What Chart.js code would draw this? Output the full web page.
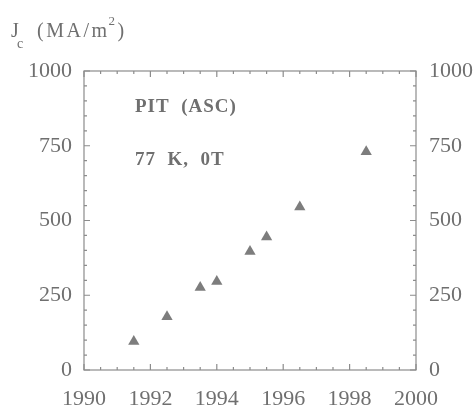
<!DOCTYPE html>
<html>
<head>
<meta charset="utf-8">
<script src="https://cdn.jsdelivr.net/npm/chart.js@4.4.1/dist/chart.umd.min.js"></script>
<style>
  html, body { margin: 0; padding: 0; background: #fff; }
  #wrap { position: relative; width: 476px; height: 411px; }
</style>
</head>
<body>
<div id="wrap"><canvas id="c" width="476" height="411"></canvas></div>
<script>
// ---- data ----
const years = [1991.5, 1992.5, 1993.5, 1994.0, 1995.0, 1995.5, 1996.5, 1998.5];
const jcValues = [95, 178, 276, 296, 396, 445, 545, 730];
const xTicks = [1990, 1992, 1994, 1996, 1998, 2000];
const yTicks = [0, 250, 500, 750, 1000];
const yAxisTitle = ['J', 'c', '(MA/m', '2', ')'];
const annotations = ['PIT  (ASC)', '77  K,  0T'];

const textColor = '#6f6f6f';
const axisColor = '#8c8c8c';
const markColor = '#7d7d7d';
const serif = "'Liberation Serif', 'Times New Roman', serif";

const framePlugin = {
  id: 'frame',
  afterDraw(chart) {
    const ctx = chart.ctx;
    const a = chart.chartArea;
    const xs = chart.scales.x, ys = chart.scales.y;
    ctx.save();
    ctx.strokeStyle = axisColor;
    ctx.lineWidth = 1.2;
    ctx.strokeRect(a.left, a.top, a.right - a.left, a.bottom - a.top);
    for (let v = xs.min; v <= xs.max + 1e-9; v += 0.5) {
      const px = xs.getPixelForValue(v);
      const major = Math.abs((v - xs.min) % 2) < 1e-6;
      const len = major ? 6 : 3;
      ctx.beginPath();
      ctx.moveTo(px, a.bottom); ctx.lineTo(px, a.bottom - len);
      ctx.moveTo(px, a.top); ctx.lineTo(px, a.top + len);
      ctx.stroke();
    }
    for (let v = ys.min; v <= ys.max + 1e-9; v += 50) {
      const py = ys.getPixelForValue(v);
      const major = Math.abs(v % 250) < 1e-6;
      const len = major ? 6 : 3;
      ctx.beginPath();
      ctx.moveTo(a.left, py); ctx.lineTo(a.left + len, py);
      ctx.moveTo(a.right, py); ctx.lineTo(a.right - len, py);
      ctx.stroke();
    }
    ctx.fillStyle = textColor;
    ctx.font = 'bold 19px ' + serif;
    ctx.letterSpacing = '1px';
    ctx.textBaseline = 'alphabetic';
    ctx.textAlign = 'left';
    ctx.fillText(annotations[0], a.left + 51, 112);
    ctx.fillText(annotations[1], a.left + 51, 165);
    ctx.font = '20px ' + serif;
    ctx.letterSpacing = '1px';
    ctx.fillText(yAxisTitle[0], 11, 37);
    ctx.font = '14px ' + serif;
    ctx.fillText(yAxisTitle[1], 17, 48);
    ctx.font = '20px ' + serif;
    ctx.letterSpacing = '2.5px';
    ctx.fillText(yAxisTitle[2], 37, 37);
    let w = ctx.measureText(yAxisTitle[2]).width;
    ctx.font = '13px ' + serif;
    ctx.letterSpacing = '0px';
    ctx.fillText(yAxisTitle[3], 37 + w - 1, 25);
    ctx.font = '20px ' + serif;
    ctx.fillText(yAxisTitle[4], 37 + w + 8, 37);
    ctx.restore();
  }
};

const tickFont = { family: serif, size: 22 };
const plain = v => String(v);

new Chart(document.getElementById('c'), {
  type: 'scatter',
  data: {
    datasets: [{
      data: years.map((y, i) => ({ x: y, y: jcValues[i] })),
      pointStyle: 'triangle',
      pointRadius: 6.5,
      pointBackgroundColor: markColor,
      pointBorderColor: markColor,
      pointBorderWidth: 0,
      yAxisID: 'y'
    }]
  },
  options: {
    responsive: false,
    animation: false,
    devicePixelRatio: 1,
    layout: { padding: { top: 71, left: 0, right: 0, bottom: 0 } },
    plugins: { legend: { display: false }, tooltip: { enabled: false } },
    scales: {
      x: {
        type: 'linear', min: 1990, max: 2000,
        afterBuildTicks: s => { s.ticks = xTicks.map(v => ({ value: v })); },
        ticks: { font: tickFont, color: textColor, padding: 16, maxRotation: 0, autoSkip: false, callback: plain },
        grid: { display: false, drawTicks: false },
        border: { display: false },
        afterFit: s => { s.height = 41; }
      },
      y: {
        position: 'left', min: 0, max: 1000,
        afterBuildTicks: s => { s.ticks = yTicks.map(v => ({ value: v })); },
        ticks: { font: tickFont, color: textColor, padding: 12, callback: plain },
        grid: { display: false, drawTicks: false },
        border: { display: false },
        afterFit: s => { s.width = 84; }
      },
      y2: {
        position: 'right', min: 0, max: 1000,
        afterBuildTicks: s => { s.ticks = yTicks.map(v => ({ value: v })); },
        ticks: { font: tickFont, color: textColor, padding: 13, callback: plain },
        grid: { display: false, drawTicks: false },
        border: { display: false },
        afterFit: s => { s.width = 60; }
      }
    }
  },
  plugins: [framePlugin]
});
</script>
</body>
</html>
